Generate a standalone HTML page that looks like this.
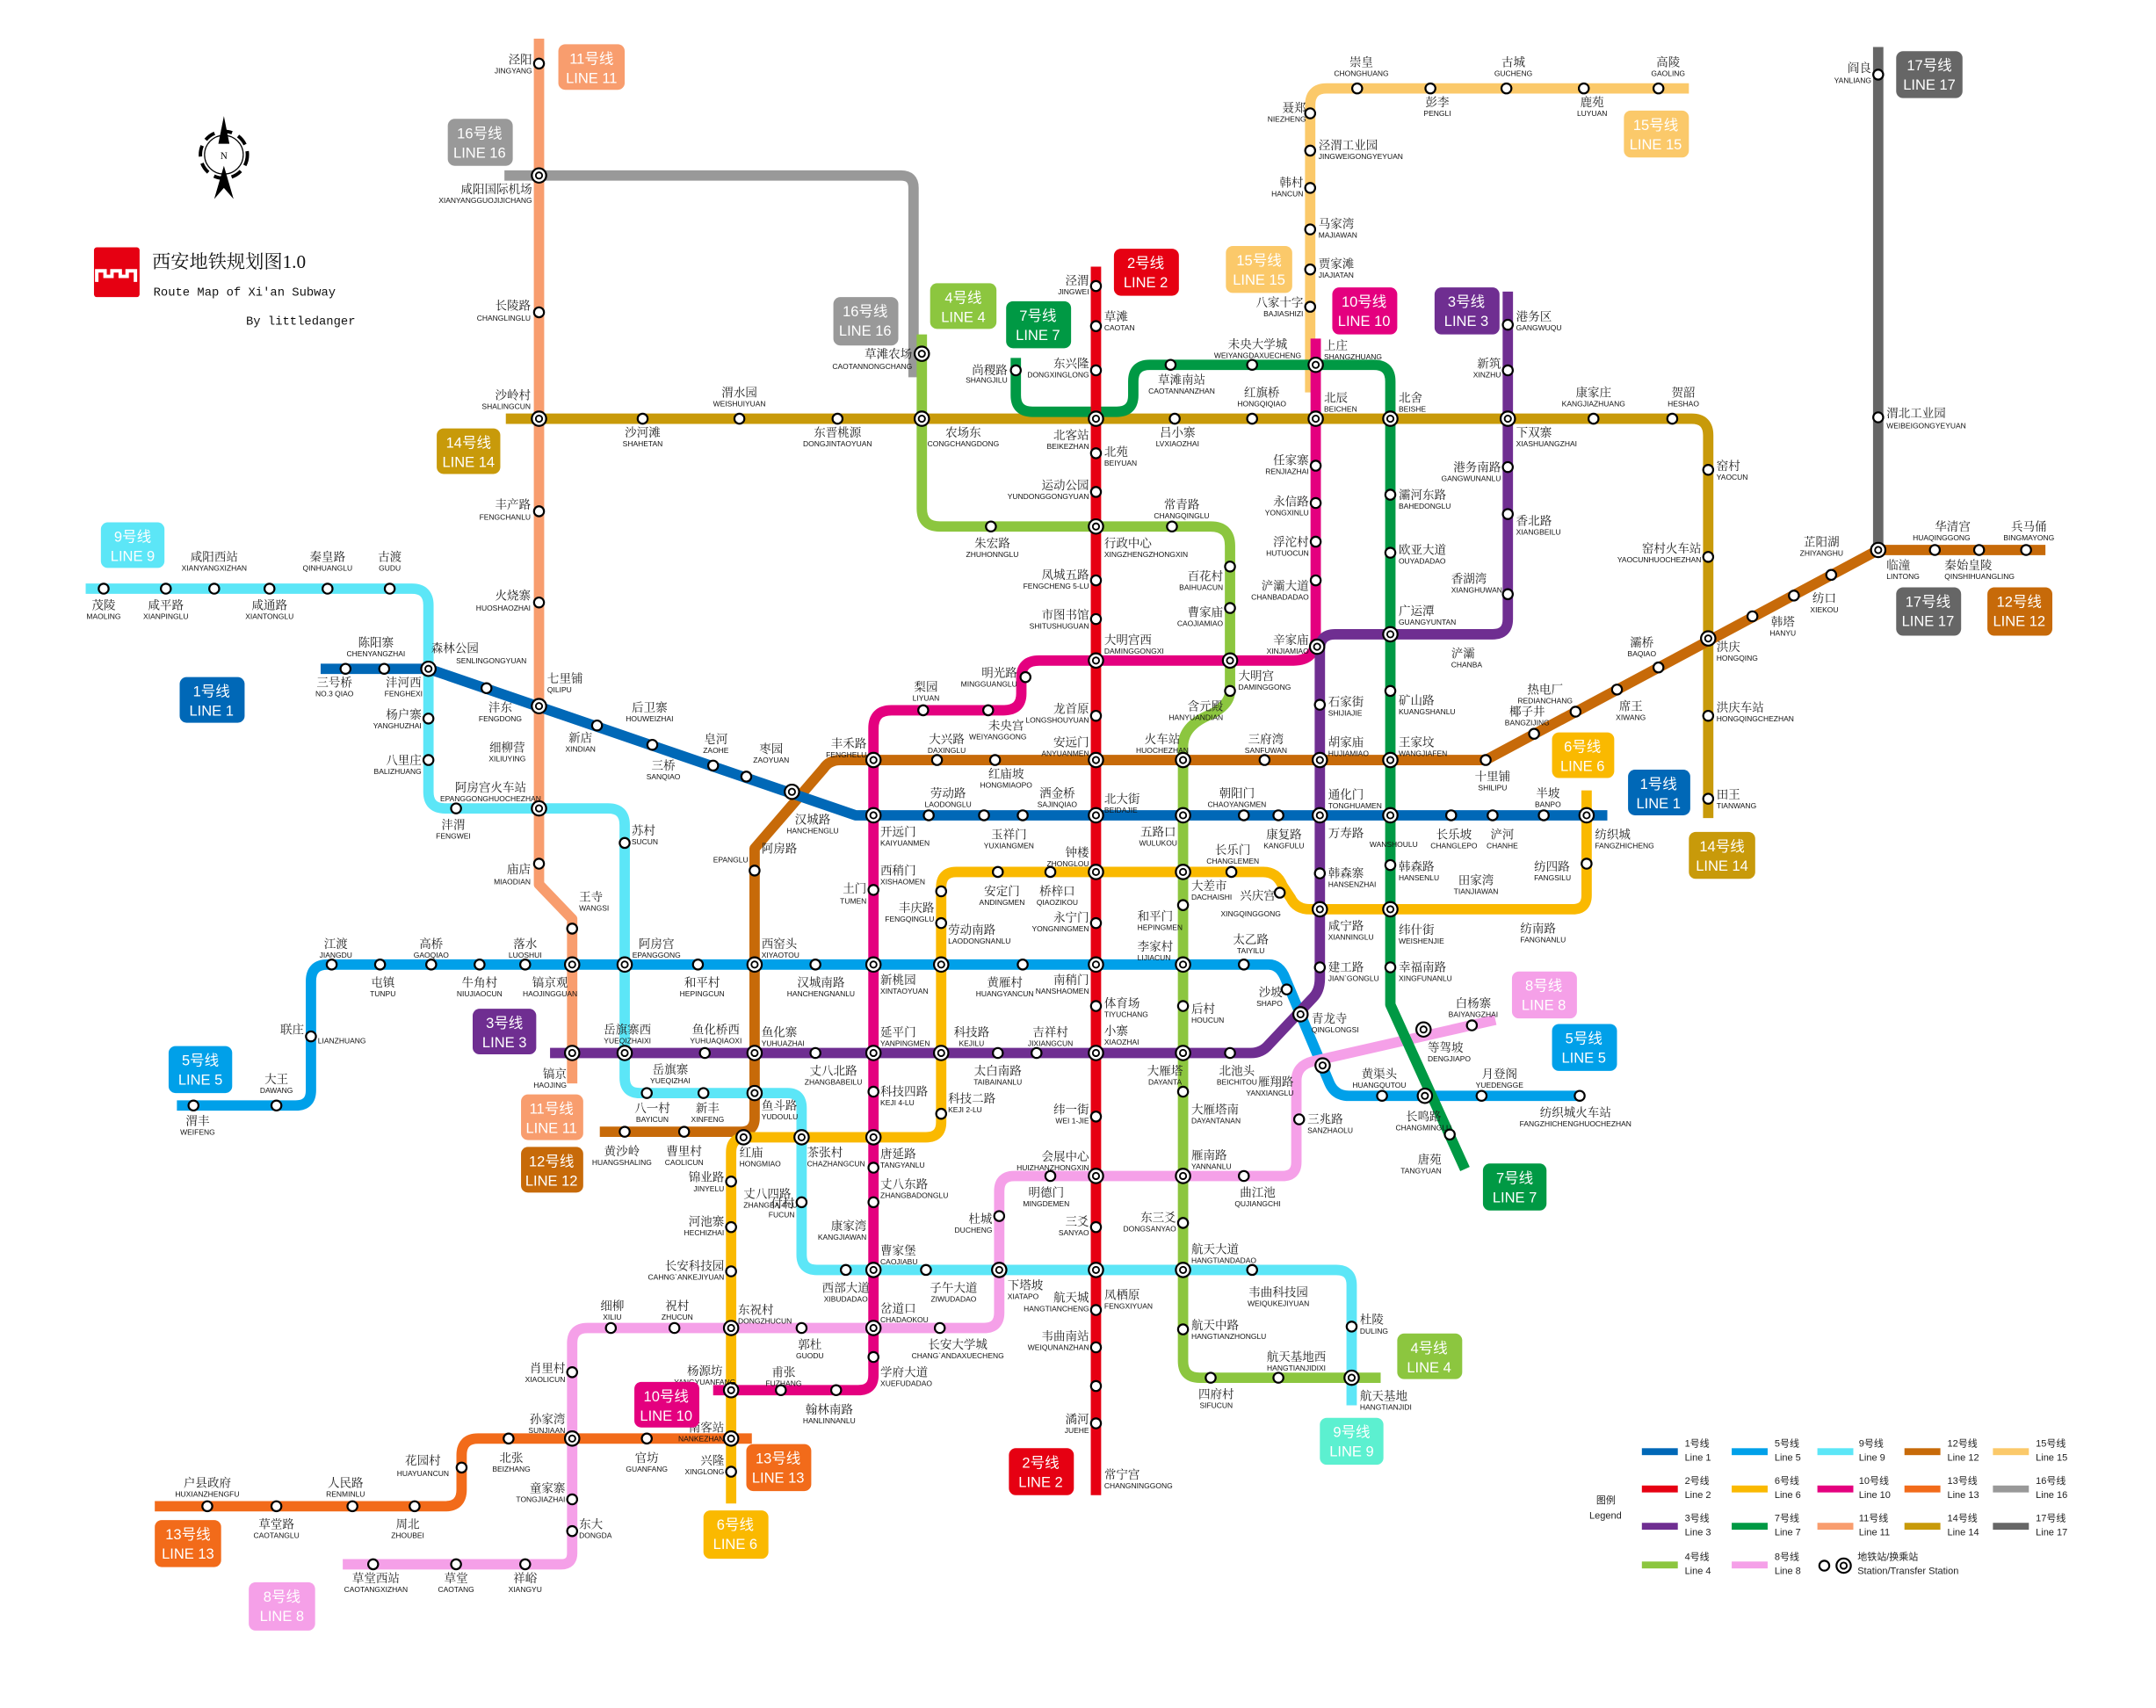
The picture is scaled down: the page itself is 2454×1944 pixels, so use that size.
<!DOCTYPE html>
<html><head><meta charset="utf-8">
<style>
html,body{margin:0;padding:0;background:#fff;}
svg{display:block;}
.c{font-family:"Liberation Serif","Noto Serif CJK SC","Noto Sans CJK SC",serif;font-size:8.6px;fill:#222;}
.p{font-family:"Liberation Sans Narrow","Liberation Sans",sans-serif;font-size:5.4px;fill:#111;}
.lb{font-family:"Liberation Sans Narrow","Liberation Sans","Noto Sans CJK SC",sans-serif;font-size:10.5px;fill:#fff;text-anchor:middle;}
.lg{font-family:"Liberation Sans Narrow","Liberation Sans","Noto Sans CJK SC",sans-serif;font-size:7px;fill:#222;}
.ln{fill:none;stroke-width:7.5;stroke-linejoin:round;stroke-linecap:butt;}
</style></head>
<body>
<svg width="2454" height="1944" viewBox="0 0 1560 1236" preserveAspectRatio="none" xmlns="http://www.w3.org/2000/svg">
<defs>
<circle id="o" r="3.6" fill="#fff" stroke="#000" stroke-width="1.4"/>
<g id="x"><circle r="5.2" fill="#fff" stroke="#000" stroke-width="1.4"/><circle r="2.3" fill="#fff" stroke="#000" stroke-width="1.2"/></g>
</defs>
<rect width="1560" height="1236" fill="#fff"/>

<!-- compass -->
<g transform="translate(162,112)">
<circle r="17" fill="none" stroke="#000" stroke-width="2.5" stroke-dasharray="8 5"/>
<circle r="14" fill="none" stroke="#000" stroke-width="0.8"/>
<polygon points="0,-28 4,-8 -4,-8" fill="#000"/>
<polygon points="0,8 7,32 0,24 -7,32" fill="#000"/>
<text x="0" y="3" font-size="7" text-anchor="middle" font-family="Liberation Serif">N</text>
</g>
<!-- title -->
<rect x="68" y="179" width="33" height="36" fill="#e60012" rx="2"/>
<path d="M70,204 v-8 h6 v4 h5 v-4 h6 v4 h5 v-4 h6 v8" fill="none" stroke="#fff" stroke-width="2.5"/>
<text x="110" y="194" font-family="Liberation Serif,Noto Serif CJK SC,serif" font-size="13.5" fill="#111">西安地铁规划图1.0</text>
<text x="111" y="214" font-family="Liberation Mono,monospace" font-size="8.8" fill="#111">Route Map of Xi'an Subway</text>
<text x="178" y="235" font-family="Liberation Mono,monospace" font-size="8.8" fill="#111">By littledanger</text>

<!-- LINES -->
<path class="ln" stroke="#f89d6e" d="M390,28 V640 L414,665 V784"/>
<path class="ln" stroke="#999" d="M365,127 H652 Q661,127 661,136 V273"/>
<path class="ln" stroke="#fbc96a" d="M948,284 V76 Q948,64 960,64 H1222"/>
<path class="ln" stroke="#666" d="M1359,34 V400"/>
<path class="ln" stroke="#c89a0a" d="M366,303 H1224 Q1236,303 1236,315 V592"/>
<path class="ln" stroke="#8cc63f" d="M667,242 V368 Q667,381 680,381 H876 Q890,381 890,395 V500 Q890,510 876,517 Q856,525 856,540 V985 Q856,997 868,997 H999"/>
<path class="ln" stroke="#5ce6f7" d="M62,426 H298 Q310,426 310,438 V573 Q310,585 322,585 H440 Q452,585 452,597 V780 Q452,791 463,791 H570 Q580,791 580,802 V908 Q580,919 591,919 H967 Q978,919 978,930 V1017"/>
<path class="ln" stroke="#c76a09" d="M434,819 H536 Q546,819 546,809 V614 L596,556 Q600,550 608,550 H1075 L1359,398 H1480"/>
<path class="ln" stroke="#0068b7" d="M232,484 H310 L619,590 H1163"/>
<path class="ln" stroke="#00a0e9" d="M128,800 H214 Q225,800 225,789 V710 Q225,698 237,698 H918 Q926,698 930,708 L962,784 Q966,793 976,793 H1143"/>
<path class="ln" stroke="#fab900" d="M529,1088 V834 Q529,823 540,823 H670 Q681,823 681,812 V642 Q681,631 692,631 H914 Q924,631 928,641 L934,650 Q938,658 948,658 H1138 Q1148,658 1148,648 V572"/>
<path class="ln" stroke="#f5a0e8" d="M248,1132 H406 Q414,1132 414,1124 V972 Q414,961 425,961 H712 Q723,961 723,950 V862 Q723,851 734,851 H928 Q938,851 938,841 V782 Q938,771 950,768 L1082,738"/>
<path class="ln" stroke="#f26b1a" d="M112,1090 H322 Q334,1090 334,1078 V1053 Q334,1041 346,1041 H544"/>
<path class="ln" stroke="#e4007f" d="M952,245 V462 Q952,478 936,478 H752 Q739,478 739,490 V502 Q739,514 726,514 H645 Q632,514 632,527 V995 Q632,1006 621,1006 H516"/>
<path class="ln" stroke="#6f2e91" d="M398,762 H905 Q913,762 918,756 L950,722 Q955,717 955,708 V470 Q955,459 966,459 H1080 Q1091,459 1091,448 V211"/>
<path class="ln" stroke="#009944" d="M735,259 V286 Q735,298 747,298 H808 Q820,298 820,286 V276 Q820,264 832,264 H994 Q1006,264 1006,276 V727 L1060,846"/>
<path class="ln" stroke="#e60012" d="M793,193 V1082"/>

<!-- STATIONS -->
<g>
<!-- L11 -->
<use href="#o" x="390" y="46"/><use href="#x" x="390" y="127"/><use href="#o" x="390" y="226"/><use href="#x" x="390" y="303"/><use href="#o" x="390" y="370"/><use href="#o" x="390" y="436"/><use href="#x" x="390" y="511"/><use href="#x" x="390" y="585"/><use href="#o" x="390" y="625"/><use href="#o" x="414" y="672"/><use href="#x" x="414" y="698"/><use href="#x" x="414" y="762"/>
<!-- L14 -->
<use href="#o" x="465" y="303"/><use href="#o" x="535" y="303"/><use href="#o" x="606" y="303"/><use href="#x" x="667" y="303"/><use href="#x" x="793" y="303"/><use href="#o" x="850" y="303"/><use href="#o" x="906" y="303"/><use href="#x" x="952" y="303"/><use href="#x" x="1006" y="303"/><use href="#x" x="1091" y="303"/><use href="#o" x="1153" y="303"/><use href="#o" x="1210" y="303"/><use href="#o" x="1236" y="340"/><use href="#o" x="1236" y="403"/><use href="#x" x="1236" y="462"/><use href="#o" x="1236" y="518"/><use href="#o" x="1236" y="578"/>
<!-- L15 -->
<use href="#o" x="948" y="82"/><use href="#o" x="948" y="109"/><use href="#o" x="948" y="136"/><use href="#o" x="948" y="166"/><use href="#o" x="948" y="195"/><use href="#o" x="948" y="222"/><use href="#o" x="982" y="64"/><use href="#o" x="1035" y="64"/><use href="#o" x="1090" y="64"/><use href="#o" x="1146" y="64"/><use href="#o" x="1200" y="64"/>
<!-- L17 -->
<use href="#o" x="1359" y="54"/><use href="#o" x="1359" y="302"/><use href="#x" x="1359" y="398"/>
<!-- L12 right -->
<use href="#o" x="1400" y="398"/><use href="#o" x="1432" y="398"/><use href="#o" x="1466" y="398"/><use href="#o" x="1325" y="416"/><use href="#o" x="1298" y="431"/><use href="#o" x="1268" y="446"/><use href="#o" x="1200" y="483"/><use href="#o" x="1170" y="499"/><use href="#o" x="1140" y="515"/><use href="#o" x="1110" y="531"/><use href="#o" x="1075" y="550"/>
<use href="#x" x="1006" y="550"/><use href="#x" x="955" y="550"/><use href="#o" x="915" y="550"/><use href="#x" x="856" y="550"/><use href="#x" x="793" y="550"/><use href="#o" x="720" y="550"/><use href="#o" x="678" y="550"/><use href="#x" x="632" y="550"/><use href="#x" x="573" y="573"/><use href="#o" x="546" y="630"/><use href="#x" x="546" y="698"/><use href="#x" x="546" y="762"/><use href="#x" x="546" y="791"/><use href="#o" x="495" y="819"/><use href="#o" x="452" y="819"/>
<!-- L1 -->
<use href="#o" x="250" y="484"/><use href="#o" x="278" y="484"/><use href="#x" x="310" y="484"/><use href="#o" x="352" y="498"/><use href="#o" x="432" y="525"/><use href="#o" x="472" y="539"/><use href="#o" x="516" y="554"/><use href="#o" x="540" y="562"/><use href="#x" x="632" y="590"/><use href="#o" x="672" y="590"/><use href="#o" x="712" y="590"/><use href="#o" x="740" y="590"/><use href="#x" x="793" y="590"/><use href="#x" x="856" y="590"/><use href="#o" x="900" y="590"/><use href="#o" x="925" y="590"/><use href="#x" x="955" y="590"/><use href="#x" x="1006" y="590"/><use href="#o" x="1050" y="590"/><use href="#o" x="1080" y="590"/><use href="#o" x="1117" y="590"/><use href="#x" x="1148" y="590"/>
<!-- L2 -->
<use href="#o" x="793" y="207"/><use href="#o" x="793" y="236"/><use href="#o" x="793" y="268"/><use href="#o" x="793" y="328"/><use href="#o" x="793" y="356"/><use href="#x" x="793" y="381"/><use href="#o" x="793" y="420"/><use href="#o" x="793" y="448"/><use href="#x" x="793" y="478"/><use href="#o" x="793" y="518"/><use href="#x" x="793" y="631"/><use href="#o" x="793" y="668"/><use href="#x" x="793" y="698"/><use href="#o" x="793" y="728"/><use href="#x" x="793" y="762"/><use href="#o" x="793" y="808"/><use href="#x" x="793" y="851"/><use href="#o" x="793" y="888"/><use href="#x" x="793" y="919"/><use href="#o" x="793" y="948"/><use href="#o" x="793" y="975"/><use href="#o" x="793" y="1003"/><use href="#o" x="793" y="1030"/>
<!-- L4 -->
<use href="#x" x="667" y="256"/><use href="#o" x="717" y="381"/><use href="#o" x="848" y="381"/><use href="#o" x="890" y="410"/><use href="#o" x="890" y="440"/><use href="#x" x="890" y="478"/><use href="#o" x="890" y="500"/><use href="#x" x="856" y="631"/><use href="#o" x="856" y="655"/><use href="#x" x="856" y="698"/><use href="#o" x="856" y="728"/><use href="#x" x="856" y="762"/><use href="#o" x="856" y="790"/><use href="#x" x="856" y="851"/><use href="#o" x="856" y="885"/><use href="#x" x="856" y="919"/><use href="#o" x="856" y="962"/><use href="#o" x="876" y="997"/><use href="#o" x="925" y="997"/><use href="#x" x="978" y="997"/>
<!-- L10 -->
<use href="#x" x="952" y="264"/><use href="#o" x="952" y="337"/><use href="#o" x="952" y="364"/><use href="#o" x="952" y="392"/><use href="#o" x="952" y="420"/><use href="#x" x="953" y="468"/><use href="#o" x="742" y="490"/><use href="#o" x="715" y="514"/><use href="#o" x="668" y="514"/><use href="#o" x="632" y="644"/><use href="#x" x="632" y="698"/><use href="#x" x="632" y="762"/><use href="#o" x="632" y="790"/><use href="#x" x="632" y="823"/><use href="#o" x="632" y="845"/><use href="#o" x="632" y="870"/><use href="#x" x="632" y="919"/><use href="#x" x="632" y="961"/><use href="#o" x="632" y="982"/><use href="#o" x="605" y="1006"/><use href="#o" x="565" y="1006"/><use href="#x" x="529" y="1006"/>
<!-- L6 -->
<use href="#o" x="529" y="1065"/><use href="#x" x="529" y="1041"/><use href="#x" x="529" y="961"/><use href="#o" x="529" y="920"/><use href="#o" x="529" y="888"/><use href="#o" x="529" y="855"/><use href="#x" x="538" y="823"/><use href="#x" x="580" y="823"/><use href="#o" x="681" y="806"/><use href="#x" x="681" y="762"/><use href="#x" x="681" y="698"/><use href="#o" x="681" y="668"/><use href="#o" x="681" y="645"/><use href="#o" x="722" y="631"/><use href="#o" x="760" y="631"/><use href="#o" x="891" y="631"/><use href="#o" x="926" y="646"/><use href="#x" x="955" y="658"/><use href="#x" x="1006" y="658"/><use href="#o" x="1148" y="625"/>
<!-- L5 -->
<use href="#o" x="140" y="800"/><use href="#o" x="200" y="800"/><use href="#o" x="225" y="750"/><use href="#o" x="240" y="698"/><use href="#o" x="275" y="698"/><use href="#o" x="312" y="698"/><use href="#o" x="347" y="698"/><use href="#o" x="380" y="698"/><use href="#x" x="452" y="698"/><use href="#o" x="505" y="698"/><use href="#o" x="590" y="698"/><use href="#o" x="740" y="698"/><use href="#o" x="900" y="698"/><use href="#o" x="931" y="716"/><use href="#x" x="941" y="734"/><use href="#x" x="957" y="771"/><use href="#o" x="1000" y="793"/><use href="#x" x="1031" y="793"/><use href="#o" x="1072" y="793"/><use href="#o" x="1143" y="793"/>
<!-- L3 -->
<use href="#x" x="452" y="762"/><use href="#o" x="510" y="762"/><use href="#o" x="590" y="762"/><use href="#o" x="722" y="762"/><use href="#o" x="750" y="762"/><use href="#o" x="890" y="762"/><use href="#o" x="955" y="700"/><use href="#o" x="955" y="632"/><use href="#o" x="955" y="510"/><use href="#x" x="1006" y="459"/><use href="#o" x="1091" y="430"/><use href="#o" x="1091" y="372"/><use href="#o" x="1091" y="338"/><use href="#o" x="1091" y="268"/><use href="#o" x="1091" y="235"/>
<!-- L7 -->
<use href="#o" x="735" y="268"/><use href="#o" x="847" y="264"/><use href="#o" x="906" y="264"/><use href="#o" x="1006" y="358"/><use href="#o" x="1006" y="400"/><use href="#o" x="1006" y="500"/><use href="#o" x="1006" y="626"/><use href="#o" x="1006" y="700"/><use href="#x" x="1030" y="745"/><use href="#o" x="1049" y="821"/>
<!-- L8 -->
<use href="#o" x="1065" y="742"/><use href="#o" x="940" y="810"/><use href="#o" x="900" y="851"/><use href="#o" x="760" y="851"/><use href="#o" x="723" y="880"/><use href="#x" x="723" y="919"/><use href="#o" x="680" y="961"/><use href="#o" x="580" y="961"/><use href="#o" x="488" y="961"/><use href="#o" x="442" y="961"/><use href="#o" x="414" y="993"/><use href="#x" x="414" y="1041"/><use href="#o" x="414" y="1085"/><use href="#o" x="414" y="1108"/><use href="#o" x="380" y="1132"/><use href="#o" x="330" y="1132"/><use href="#o" x="270" y="1132"/>
<!-- L13 -->
<use href="#o" x="150" y="1090"/><use href="#o" x="200" y="1090"/><use href="#o" x="255" y="1090"/><use href="#o" x="300" y="1090"/><use href="#o" x="334" y="1062"/><use href="#o" x="368" y="1041"/><use href="#o" x="468" y="1041"/>
<!-- L9 -->
<use href="#o" x="75" y="426"/><use href="#o" x="120" y="426"/><use href="#o" x="155" y="426"/><use href="#o" x="195" y="426"/><use href="#o" x="237" y="426"/><use href="#o" x="282" y="426"/><use href="#o" x="310" y="520"/><use href="#o" x="310" y="550"/><use href="#o" x="330" y="585"/><use href="#o" x="452" y="610"/><use href="#o" x="468" y="791"/><use href="#o" x="509" y="791"/><use href="#o" x="580" y="870"/><use href="#o" x="612" y="919"/><use href="#o" x="670" y="919"/><use href="#o" x="906" y="919"/><use href="#o" x="978" y="960"/>
</g>

<!-- LABELS -->
<g text-anchor="end">
<text class="c" x="385" y="46">泾阳</text><text class="p" x="385" y="53">JINGYANG</text>
<text class="c" x="385" y="140">咸阳国际机场</text><text class="p" x="385" y="147">XIANYANGGUOJIJICHANG</text>
<text class="c" x="384" y="224">长陵路</text><text class="p" x="384" y="232">CHANGLINGLU</text>
<text class="c" x="384" y="289">沙岭村</text><text class="p" x="384" y="296">SHALINGCUN</text>
<text class="c" x="384" y="368">丰产路</text><text class="p" x="384" y="376">FENGCHANLU</text>
<text class="c" x="384" y="434">火烧寨</text><text class="p" x="384" y="442">HUOSHAOZHAI</text>
<text class="c" x="384" y="632">庙店</text><text class="p" x="384" y="640">MIAODIAN</text>
<text class="c" x="410" y="780">镐京</text><text class="p" x="410" y="787">HAOJING</text>
<text class="c" x="660" y="259">草滩农场</text><text class="p" x="660" y="267">CAOTANNONGCHANG</text>
<text class="c" x="729" y="271">尚稷路</text><text class="p" x="729" y="277">SHANGJILU</text>
<text class="c" x="788" y="266">东兴隆</text><text class="p" x="788" y="273">DONGXINGLONG</text>
<text class="c" x="788" y="206">泾渭</text><text class="p" x="788" y="213">JINGWEI</text>
<text class="c" x="788" y="318">北客站</text><text class="p" x="788" y="325">BEIKEZHAN</text>
<text class="c" x="788" y="354">运动公园</text><text class="p" x="788" y="361">YUNDONGGONGYUAN</text>
<text class="c" x="788" y="419">凤城五路</text><text class="p" x="788" y="426">FENGCHENG 5-LU</text>
<text class="c" x="788" y="448">市图书馆</text><text class="p" x="788" y="455">SHITUSHUGUAN</text>
<text class="c" x="788" y="516">龙首原</text><text class="p" x="788" y="523">LONGSHOUYUAN</text>
<text class="c" x="788" y="540">安远门</text><text class="p" x="788" y="547">ANYUANMEN</text>
<text class="c" x="788" y="620">钟楼</text><text class="p" x="788" y="627">ZHONGLOU</text>
<text class="c" x="788" y="667">永宁门</text><text class="p" x="788" y="674">YONGNINGMEN</text>
<text class="c" x="788" y="712">南稍门</text><text class="p" x="788" y="719">NANSHAOMEN</text>
<text class="c" x="788" y="806">纬一街</text><text class="p" x="788" y="813">WEI 1-JIE</text>
<text class="c" x="788" y="840">会展中心</text><text class="p" x="788" y="847">HUIZHANZHONGXIN</text>
<text class="c" x="788" y="887">三爻</text><text class="p" x="788" y="894">SANYAO</text>
<text class="c" x="788" y="942">航天城</text><text class="p" x="788" y="949">HANGTIANCHENG</text>
<text class="c" x="788" y="970">韦曲南站</text><text class="p" x="788" y="977">WEIQUNANZHAN</text>
<text class="c" x="788" y="1030">潏河</text><text class="p" x="788" y="1037">JUEHE</text>
<text class="c" x="945" y="81">聂郑</text><text class="p" x="945" y="88">NIEZHENG</text>
<text class="c" x="943" y="135">韩村</text><text class="p" x="943" y="142">HANCUN</text>
<text class="c" x="943" y="222">八家十字</text><text class="p" x="943" y="229">BAJIASHIZI</text>
<text class="c" x="947" y="336">任家寨</text><text class="p" x="947" y="343">RENJIAZHAI</text>
<text class="c" x="947" y="366">永信路</text><text class="p" x="947" y="373">YONGXINLU</text>
<text class="c" x="947" y="395">浮沱村</text><text class="p" x="947" y="402">HUTUOCUN</text>
<text class="c" x="947" y="427">浐灞大道</text><text class="p" x="947" y="434">CHANBADADAO</text>
<text class="c" x="947" y="466">辛家庙</text><text class="p" x="947" y="473">XINJIAMIAO</text>
<text class="c" x="885" y="420">百花村</text><text class="p" x="885" y="427">BAIHUACUN</text>
<text class="c" x="885" y="446">曹家庙</text><text class="p" x="885" y="453">CAOJIAMIAO</text>
<text class="c" x="885" y="514">含元殿</text><text class="p" x="885" y="521">HANYUANDIAN</text>
<text class="c" x="736" y="490">明光路</text><text class="p" x="736" y="497">MINGGUANGLU</text>
<text class="c" x="627" y="541">丰禾路</text><text class="p" x="627" y="548">FENGHELU</text>
<text class="c" x="627" y="646">土门</text><text class="p" x="627" y="654">TUMEN</text>
<text class="c" x="676" y="660">丰庆路</text><text class="p" x="676" y="667">FENGQINGLU</text>
<text class="c" x="1086" y="266">新筑</text><text class="p" x="1086" y="273">XINZHU</text>
<text class="c" x="1086" y="341">港务南路</text><text class="p" x="1086" y="348">GANGWUNANLU</text>
<text class="c" x="1231" y="400">窑村火车站</text><text class="p" x="1231" y="407">YAOCUNHUOCHEZHAN</text>
<text class="c" x="1354" y="52">阎良</text><text class="p" x="1354" y="60">YANLIANG</text>
<text class="c" x="524" y="855">锦业路</text><text class="p" x="524" y="862">JINYELU</text>
<text class="c" x="524" y="887">河池寨</text><text class="p" x="524" y="894">HECHIZHAI</text>
<text class="c" x="524" y="919">长安科技园</text><text class="p" x="524" y="926">CAHNG`ANKEJIYUAN</text>
<text class="c" x="524" y="1060">兴隆</text><text class="p" x="524" y="1067">XINGLONG</text>
<text class="c" x="524" y="1056" dy="-20">南客站</text><text class="p" x="524" y="1062" dy="-19">NANKEZHAN</text>
<text class="c" x="575" y="874">付村</text><text class="p" x="575" y="881">FUCUN</text>
<text class="c" x="627" y="890">康家湾</text><text class="p" x="627" y="897">KANGJIAWAN</text>
<text class="c" x="718" y="885">杜城</text><text class="p" x="718" y="892">DUCHENG</text>
<text class="c" x="409" y="993">肖里村</text><text class="p" x="409" y="1000">XIAOLICUN</text>
<text class="c" x="409" y="1030">孙家湾</text><text class="p" x="409" y="1037">SUNJIAAN</text>
<text class="c" x="409" y="1080">童家寨</text><text class="p" x="409" y="1087">TONGJIAZHAI</text>
<text class="c" x="220" y="748">联庄</text><text class="p" x="220" y="755" text-anchor="start" dx="10">LIANZHUANG</text>
<text class="c" x="851" y="884">东三爻</text><text class="p" x="851" y="891">DONGSANYAO</text>
<text class="c" x="305" y="520">杨户寨</text><text class="p" x="305" y="527">YANGHUZHAI</text>
<text class="c" x="305" y="553">八里庄</text><text class="p" x="305" y="560">BALIZHUANG</text>
<text class="c" x="1043" y="842">唐苑</text><text class="p" x="1043" y="849">TANGYUAN</text>
<text class="c" x="936" y="786">雁翔路</text><text class="p" x="936" y="793">YANXIANGLU</text>
<text class="c" x="928" y="721">沙坡</text><text class="p" x="928" y="728">SHAPO</text>
</g>

<g text-anchor="start">
<text class="c" x="799" y="232">草滩</text><text class="p" x="799" y="239">CAOTAN</text>
<text class="c" x="799" y="330">北苑</text><text class="p" x="799" y="337">BEIYUAN</text>
<text class="c" x="799" y="396">行政中心</text><text class="p" x="799" y="403">XINGZHENGZHONGXIN</text>
<text class="c" x="799" y="466">大明宫西</text><text class="p" x="799" y="473">DAMINGGONGXI</text>
<text class="c" x="799" y="581">北大街</text><text class="p" x="799" y="588">BEIDAJIE</text>
<text class="c" x="799" y="729">体育场</text><text class="p" x="799" y="736">TIYUCHANG</text>
<text class="c" x="799" y="749">小寨</text><text class="p" x="799" y="756">XIAOZHAI</text>
<text class="c" x="799" y="940">凤栖原</text><text class="p" x="799" y="947">FENGXIYUAN</text>
<text class="c" x="799" y="1070">常宁宫</text><text class="p" x="799" y="1077">CHANGNINGGONG</text>
<text class="c" x="954" y="108">泾渭工业园</text><text class="p" x="954" y="115">JINGWEIGONGYEYUAN</text>
<text class="c" x="954" y="165">马家湾</text><text class="p" x="954" y="172">MAJIAWAN</text>
<text class="c" x="954" y="194">贾家滩</text><text class="p" x="954" y="201">JIAJIATAN</text>
<text class="c" x="958" y="253">上庄</text><text class="p" x="958" y="260">SHANGZHUANG</text>
<text class="c" x="958" y="291">北辰</text><text class="p" x="958" y="298">BEICHEN</text>
<text class="c" x="1012" y="291">北舍</text><text class="p" x="1012" y="298">BEISHE</text>
<text class="c" x="1012" y="361">灞河东路</text><text class="p" x="1012" y="368">BAHEDONGLU</text>
<text class="c" x="1012" y="401">欧亚大道</text><text class="p" x="1012" y="408">OUYADADAO</text>
<text class="c" x="1012" y="445">广运潭</text><text class="p" x="1012" y="452">GUANGYUNTAN</text>
<text class="c" x="1012" y="510">矿山路</text><text class="p" x="1012" y="517">KUANGSHANLU</text>
<text class="c" x="1012" y="540">王家坟</text><text class="p" x="1012" y="547">WANGJIAFEN</text>
<text class="c" x="1012" y="630">韩森路</text><text class="p" x="1012" y="637">HANSENLU</text>
<text class="c" x="1012" y="676">纬什街</text><text class="p" x="1012" y="683">WEISHENJIE</text>
<text class="c" x="1012" y="703">幸福南路</text><text class="p" x="1012" y="710">XINGFUNANLU</text>
<text class="c" x="1033" y="761">等驾坡</text><text class="p" x="1033" y="768">DENGJIAPO</text>
<text class="c" x="1097" y="232">港务区</text><text class="p" x="1097" y="239">GANGWUQU</text>
<text class="c" x="1097" y="316">下双寨</text><text class="p" x="1097" y="323">XIASHUANGZHAI</text>
<text class="c" x="1097" y="380">香北路</text><text class="p" x="1097" y="387">XIANGBEILU</text>
<text class="c" x="1050" y="422">香湖湾</text><text class="p" x="1050" y="429">XIANGHUWAN</text>
<text class="c" x="1050" y="476">浐灞</text><text class="p" x="1050" y="483">CHANBA</text>
<text class="c" x="961" y="511">石家街</text><text class="p" x="961" y="518">SHIJIAJIE</text>
<text class="c" x="961" y="540">胡家庙</text><text class="p" x="961" y="547">HUJIAMIAO</text>
<text class="c" x="961" y="578">通化门</text><text class="p" x="961" y="585">TONGHUAMEN</text>
<text class="c" x="961" y="606">万寿路</text><text class="p" x="961" y="613" dx="30">WANSHOULU</text>
<text class="c" x="961" y="635">韩森寨</text><text class="p" x="961" y="642">HANSENZHAI</text>
<text class="c" x="961" y="673">咸宁路</text><text class="p" x="961" y="680">XIANNINGLU</text>
<text class="c" x="961" y="703">建工路</text><text class="p" x="961" y="710">JIAN`GONGLU</text>
<text class="c" x="949" y="740">青龙寺</text><text class="p" x="949" y="747">QINGLONGSI</text>
<text class="c" x="946" y="813">三兆路</text><text class="p" x="946" y="820">SANZHAOLU</text>
<text class="c" x="1242" y="340">窑村</text><text class="p" x="1242" y="347">YAOCUN</text>
<text class="c" x="1242" y="471">洪庆</text><text class="p" x="1242" y="478">HONGQING</text>
<text class="c" x="1242" y="515">洪庆车站</text><text class="p" x="1242" y="522">HONGQINGCHEZHAN</text>
<text class="c" x="1242" y="578">田王</text><text class="p" x="1242" y="585">TIANWANG</text>
<text class="c" x="1365" y="302">渭北工业园</text><text class="p" x="1365" y="310">WEIBEIGONGYEYUAN</text>
<text class="c" x="1365" y="412">临潼</text><text class="p" x="1365" y="419">LINTONG</text>
<text class="c" x="1407" y="412">秦始皇陵</text><text class="p" x="1407" y="419">QINSHIHUANGLING</text>
<text class="c" x="896" y="492">大明宫</text><text class="p" x="896" y="499">DAMINGGONG</text>
<text class="c" x="862" y="644">大差市</text><text class="p" x="862" y="651">DACHAISHI</text>
<text class="c" x="823" y="666">和平门</text><text class="p" x="823" y="673">HEPINGMEN</text>
<text class="c" x="823" y="688">李家村</text><text class="p" x="823" y="695">LIJIACUN</text>
<text class="c" x="862" y="733">后村</text><text class="p" x="862" y="740">HOUCUN</text>
<text class="c" x="862" y="806">大雁塔南</text><text class="p" x="862" y="813">DAYANTANAN</text>
<text class="c" x="862" y="839">雁南路</text><text class="p" x="862" y="846">YANNANLU</text>
<text class="c" x="862" y="907">航天大道</text><text class="p" x="862" y="914">HANGTIANDADAO</text>
<text class="c" x="862" y="962">航天中路</text><text class="p" x="862" y="969">HANGTIANZHONGLU</text>
<text class="c" x="984" y="1013">航天基地</text><text class="p" x="984" y="1020">HANGTIANJIDI</text>
<text class="c" x="984" y="958">杜陵</text><text class="p" x="984" y="965">DULING</text>
<text class="c" x="637" y="605">开远门</text><text class="p" x="637" y="612">KAIYUANMEN</text>
<text class="c" x="637" y="633">西稍门</text><text class="p" x="637" y="640">XISHAOMEN</text>
<text class="c" x="637" y="712">新桃园</text><text class="p" x="637" y="719">XINTAOYUAN</text>
<text class="c" x="637" y="750">延平门</text><text class="p" x="637" y="757">YANPINGMEN</text>
<text class="c" x="637" y="793">科技四路</text><text class="p" x="637" y="800">KEJI 4-LU</text>
<text class="c" x="637" y="838">唐延路</text><text class="p" x="637" y="845">TANGYANLU</text>
<text class="c" x="637" y="860">丈八东路</text><text class="p" x="637" y="867">ZHANGBADONGLU</text>
<text class="c" x="637" y="908">曹家堡</text><text class="p" x="637" y="915">CAOJIABU</text>
<text class="c" x="637" y="950">岔道口</text><text class="p" x="637" y="957">CHADAOKOU</text>
<text class="c" x="637" y="996">学府大道</text><text class="p" x="637" y="1003">XUEFUDADAO</text>
<text class="c" x="686" y="798">科技二路</text><text class="p" x="686" y="805">KEJI 2-LU</text>
<text class="c" x="686" y="676">劳动南路</text><text class="p" x="686" y="683">LAODONGNANLU</text>
<text class="c" x="551" y="617">阿房路</text><text class="p" x="551" y="624" dx="-35">EPANGLU</text>
<text class="c" x="551" y="686">西窑头</text><text class="p" x="551" y="693">XIYAOTOU</text>
<text class="c" x="551" y="750">鱼化寨</text><text class="p" x="551" y="757">YUHUAZHAI</text>
<text class="c" x="551" y="803">鱼斗路</text><text class="p" x="551" y="810">YUDOULU</text>
<text class="c" x="535" y="837">红庙</text><text class="p" x="535" y="844">HONGMIAO</text>
<text class="c" x="584" y="837">茶张村</text><text class="p" x="584" y="844">CHAZHANGCUN</text>
<text class="c" x="538" y="867">丈八四路</text><text class="p" x="538" y="874">ZHANGBA 4-LU</text>
<text class="c" x="534" y="951">东祝村</text><text class="p" x="534" y="958">DONGZHUCUN</text>
<text class="c" x="457" y="604">苏村</text><text class="p" x="457" y="611">SUCUN</text>
<text class="c" x="419" y="652">王寺</text><text class="p" x="419" y="659">WANGSI</text>
<text class="c" x="396" y="494">七里铺</text><text class="p" x="396" y="501">QILIPU</text>
<text class="c" x="729" y="933">下塔坡</text><text class="p" x="729" y="940">XIATAPO</text>
<text class="c" x="419" y="1106">东大</text><text class="p" x="419" y="1113">DONGDA</text>
<text class="c" x="312" y="472">森林公园</text><text class="p" x="330" y="480">SENLINGONGYUAN</text>
<text class="c" x="1154" y="607">纺织城</text><text class="p" x="1154" y="614">FANGZHICHENG</text>
<text class="c" x="1110" y="630">纺四路</text><text class="p" x="1110" y="637">FANGSILU</text>
<text class="c" x="1100" y="675">纺南路</text><text class="p" x="1100" y="682">FANGNANLU</text>
<text class="c" x="1400" y="384">华清宫</text><text class="p" x="1384" y="391">HUAQINGGONG</text>
</g>

<g text-anchor="middle">
<text class="c" x="465" y="316">沙河滩</text><text class="p" x="465" y="323">SHAHETAN</text>
<text class="c" x="535" y="287">渭水园</text><text class="p" x="535" y="294">WEISHUIYUAN</text>
<text class="c" x="606" y="316">东晋桃源</text><text class="p" x="606" y="323">DONGJINTAOYUAN</text>
<text class="c" x="697" y="316">农场东</text><text class="p" x="697" y="323">CONGCHANGDONG</text>
<text class="c" x="852" y="316">吕小寨</text><text class="p" x="852" y="323">LVXIAOZHAI</text>
<text class="c" x="913" y="287">红旗桥</text><text class="p" x="913" y="294">HONGQIQIAO</text>
<text class="c" x="1153" y="287">康家庄</text><text class="p" x="1153" y="294">KANGJIAZHUANG</text>
<text class="c" x="1218" y="287">贺韶</text><text class="p" x="1218" y="294">HESHAO</text>
<text class="c" x="855" y="278">草滩南站</text><text class="p" x="855" y="285">CAOTANNANZHAN</text>
<text class="c" x="910" y="252">未央大学城</text><text class="p" x="910" y="259">WEIYANGDAXUECHENG</text>
<text class="c" x="985" y="48">崇皇</text><text class="p" x="985" y="55">CHONGHUANG</text>
<text class="c" x="1040" y="77">彭李</text><text class="p" x="1040" y="84">PENGLI</text>
<text class="c" x="1095" y="48">古城</text><text class="p" x="1095" y="55">GUCHENG</text>
<text class="c" x="1152" y="77">鹿苑</text><text class="p" x="1152" y="84">LUYUAN</text>
<text class="c" x="1207" y="48">高陵</text><text class="p" x="1207" y="55">GAOLING</text>
<text class="c" x="718" y="396">朱宏路</text><text class="p" x="718" y="403">ZHUHONNGLU</text>
<text class="c" x="855" y="368">常青路</text><text class="p" x="855" y="375">CHANGQINGLU</text>
<text class="c" x="670" y="500">梨园</text><text class="p" x="670" y="507">LIYUAN</text>
<text class="c" x="728" y="528">未央宫</text><text class="p" x="722" y="535">WEIYANGGONG</text>
<text class="c" x="685" y="538">大兴路</text><text class="p" x="685" y="545">DAXINGLU</text>
<text class="c" x="728" y="563">红庙坡</text><text class="p" x="728" y="570">HONGMIAOPO</text>
<text class="c" x="841" y="538">火车站</text><text class="p" x="841" y="545">HUOCHEZHAN</text>
<text class="c" x="916" y="538">三府湾</text><text class="p" x="916" y="545">SANFUWAN</text>
<text class="c" x="1080" y="565">十里铺</text><text class="p" x="1080" y="572">SHILIPU</text>
<text class="c" x="1105" y="518">椰子井</text><text class="p" x="1105" y="525">BANGZIJING</text>
<text class="c" x="1118" y="502">热电厂</text><text class="p" x="1118" y="509">REDIANCHANG</text>
<text class="c" x="1180" y="514">席王</text><text class="p" x="1180" y="521">XIWANG</text>
<text class="c" x="1188" y="468">灞桥</text><text class="p" x="1188" y="475">BAQIAO</text>
<text class="c" x="1290" y="453">韩塔</text><text class="p" x="1290" y="460">HANYU</text>
<text class="c" x="1320" y="436">纺口</text><text class="p" x="1320" y="443">XIEKOU</text>
<text class="c" x="1318" y="395">芷阳湖</text><text class="p" x="1318" y="402">ZHIYANGHU</text>
<text class="c" x="1468" y="384">兵马俑</text><text class="p" x="1468" y="391">BINGMAYONG</text>
<text class="c" x="588" y="596">汉城路</text><text class="p" x="588" y="603">HANCHENGLU</text>
<text class="c" x="558" y="545">枣园</text><text class="p" x="558" y="552">ZAOYUAN</text>
<text class="c" x="518" y="538">皂河</text><text class="p" x="518" y="545">ZAOHE</text>
<text class="c" x="480" y="557">三桥</text><text class="p" x="480" y="564">SANQIAO</text>
<text class="c" x="470" y="515">后卫寨</text><text class="p" x="470" y="522">HOUWEIZHAI</text>
<text class="c" x="420" y="537">新店</text><text class="p" x="420" y="544">XINDIAN</text>
<text class="c" x="362" y="515">沣东</text><text class="p" x="362" y="522">FENGDONG</text>
<text class="c" x="367" y="544">细柳营</text><text class="p" x="367" y="551">XILIUYING</text>
<text class="c" x="242" y="497">三号桥</text><text class="p" x="242" y="504">NO.3 QIAO</text>
<text class="c" x="272" y="468">陈阳寨</text><text class="p" x="272" y="475">CHENYANGZHAI</text>
<text class="c" x="292" y="497">沣河西</text><text class="p" x="292" y="504">FENGHEXI</text>
<text class="c" x="686" y="577">劳动路</text><text class="p" x="686" y="584">LAODONGLU</text>
<text class="c" x="730" y="607">玉祥门</text><text class="p" x="730" y="614">YUXIANGMEN</text>
<text class="c" x="765" y="577">洒金桥</text><text class="p" x="765" y="584">SAJINQIAO</text>
<text class="c" x="838" y="605">五路口</text><text class="p" x="838" y="612">WULUKOU</text>
<text class="c" x="895" y="577">朝阳门</text><text class="p" x="895" y="584">CHAOYANGMEN</text>
<text class="c" x="929" y="607">康复路</text><text class="p" x="929" y="614">KANGFULU</text>
<text class="c" x="1052" y="607">长乐坡</text><text class="p" x="1052" y="614">CHANGLEPO</text>
<text class="c" x="1087" y="607">浐河</text><text class="p" x="1087" y="614">CHANHE</text>
<text class="c" x="1120" y="577">半坡</text><text class="p" x="1120" y="584">BANPO</text>
<text class="c" x="892" y="618">长乐门</text><text class="p" x="892" y="625">CHANGLEMEN</text>
<text class="c" x="910" y="651">兴庆宫</text><text class="p" x="905" y="663">XINGQINGGONG</text>
<text class="c" x="725" y="648">安定门</text><text class="p" x="725" y="655">ANDINGMEN</text>
<text class="c" x="765" y="648">桥梓口</text><text class="p" x="765" y="655">QIAOZIKOU</text>
<text class="c" x="1068" y="640">田家湾</text><text class="p" x="1068" y="647">TIANJIAWAN</text>
<text class="c" x="143" y="814">渭丰</text><text class="p" x="143" y="821">WEIFENG</text>
<text class="c" x="200" y="784">大王</text><text class="p" x="200" y="791">DAWANG</text>
<text class="c" x="243" y="686">江渡</text><text class="p" x="243" y="693">JIANGDU</text>
<text class="c" x="277" y="714">屯镇</text><text class="p" x="277" y="721">TUNPU</text>
<text class="c" x="312" y="686">高桥</text><text class="p" x="312" y="693">GAOQIAO</text>
<text class="c" x="347" y="714">牛角村</text><text class="p" x="347" y="721">NIUJIAOCUN</text>
<text class="c" x="380" y="686">落水</text><text class="p" x="380" y="693">LUOSHUI</text>
<text class="c" x="398" y="714">镐京观</text><text class="p" x="398" y="721">HAOJINGGUAN</text>
<text class="c" x="475" y="686">阿房宫</text><text class="p" x="475" y="693">EPANGGONG</text>
<text class="c" x="508" y="714">和平村</text><text class="p" x="508" y="721">HEPINGCUN</text>
<text class="c" x="594" y="714">汉城南路</text><text class="p" x="594" y="721">HANCHENGNANLU</text>
<text class="c" x="727" y="714">黄雁村</text><text class="p" x="727" y="721">HUANGYANCUN</text>
<text class="c" x="905" y="683">太乙路</text><text class="p" x="905" y="690">TAIYILU</text>
<text class="c" x="998" y="780">黄渠头</text><text class="p" x="998" y="787">HUANGQUTOU</text>
<text class="c" x="1030" y="811">长鸣路</text><text class="p" x="1030" y="818">CHANGMINGLU</text>
<text class="c" x="1085" y="780">月登阁</text><text class="p" x="1085" y="787">YUEDENGGE</text>
<text class="c" x="1140" y="808">纺织城火车站</text><text class="p" x="1140" y="815">FANGZHICHENGHUOCHEZHAN</text>
<text class="c" x="454" y="748">岳旗寨西</text><text class="p" x="454" y="755">YUEQIZHAIXI</text>
<text class="c" x="518" y="748">鱼化桥西</text><text class="p" x="518" y="755">YUHUAQIAOXI</text>
<text class="c" x="603" y="778">丈八北路</text><text class="p" x="603" y="785">ZHANGBABEILU</text>
<text class="c" x="703" y="750">科技路</text><text class="p" x="703" y="757">KEJILU</text>
<text class="c" x="722" y="778">太白南路</text><text class="p" x="722" y="785">TAIBAINANLU</text>
<text class="c" x="760" y="750">吉祥村</text><text class="p" x="760" y="757">JIXIANGCUN</text>
<text class="c" x="843" y="778">大雁塔</text><text class="p" x="843" y="785">DAYANTA</text>
<text class="c" x="895" y="778">北池头</text><text class="p" x="895" y="785">BEICHITOU</text>
<text class="c" x="485" y="777">岳旗寨</text><text class="p" x="485" y="784">YUEQIZHAI</text>
<text class="c" x="472" y="805">八一村</text><text class="p" x="472" y="812">BAYICUN</text>
<text class="c" x="512" y="805">新丰</text><text class="p" x="512" y="812">XINFENG</text>
<text class="c" x="450" y="836">黄沙岭</text><text class="p" x="450" y="843">HUANGSHALING</text>
<text class="c" x="495" y="836">曹里村</text><text class="p" x="495" y="843">CAOLICUN</text>
<text class="c" x="612" y="935">西部大道</text><text class="p" x="612" y="942">XIBUDADAO</text>
<text class="c" x="690" y="935">子午大道</text><text class="p" x="690" y="942">ZIWUDADAO</text>
<text class="c" x="925" y="938">韦曲科技园</text><text class="p" x="925" y="945">WEIQUKEJIYUAN</text>
<text class="c" x="880" y="1012">四府村</text><text class="p" x="880" y="1019">SIFUCUN</text>
<text class="c" x="938" y="985">航天基地西</text><text class="p" x="938" y="992">HANGTIANJIDIXI</text>
<text class="c" x="757" y="866">明德门</text><text class="p" x="757" y="873">MINGDEMEN</text>
<text class="c" x="910" y="866">曲江池</text><text class="p" x="910" y="873">QUJIANGCHI</text>
<text class="c" x="1066" y="729">白杨寨</text><text class="p" x="1066" y="736">BAIYANGZHAI</text>
<text class="c" x="693" y="976">长安大学城</text><text class="p" x="693" y="983">CHANG`ANDAXUECHENG</text>
<text class="c" x="586" y="976">郭杜</text><text class="p" x="586" y="983">GUODU</text>
<text class="c" x="490" y="948">祝村</text><text class="p" x="490" y="955">ZHUCUN</text>
<text class="c" x="443" y="948">细柳</text><text class="p" x="443" y="955">XILIU</text>
<text class="c" x="510" y="995">杨源坊</text><text class="p" x="510" y="1002">YANGYUANFANG</text>
<text class="c" x="567" y="996">甫张</text><text class="p" x="567" y="1003">FUZHANG</text>
<text class="c" x="600" y="1023">翰林南路</text><text class="p" x="600" y="1030">HANLINNANLU</text>
<text class="c" x="468" y="1058">官坊</text><text class="p" x="468" y="1065">GUANFANG</text>
<text class="c" x="370" y="1058">北张</text><text class="p" x="370" y="1065">BEIZHANG</text>
<text class="c" x="306" y="1060">花园村</text><text class="p" x="306" y="1068">HUAYUANCUN</text>
<text class="c" x="150" y="1076">户县政府</text><text class="p" x="150" y="1083">HUXIANZHENGFU</text>
<text class="c" x="200" y="1106">草堂路</text><text class="p" x="200" y="1113">CAOTANGLU</text>
<text class="c" x="250" y="1076">人民路</text><text class="p" x="250" y="1083">RENMINLU</text>
<text class="c" x="295" y="1106">周北</text><text class="p" x="295" y="1113">ZHOUBEI</text>
<text class="c" x="272" y="1145">草堂西站</text><text class="p" x="272" y="1152">CAOTANGXIZHAN</text>
<text class="c" x="330" y="1145">草堂</text><text class="p" x="330" y="1152">CAOTANG</text>
<text class="c" x="380" y="1145">祥峪</text><text class="p" x="380" y="1152">XIANGYU</text>
<text class="c" x="75" y="441">茂陵</text><text class="p" x="75" y="448">MAOLING</text>
<text class="c" x="120" y="441">咸平路</text><text class="p" x="120" y="448">XIANPINGLU</text>
<text class="c" x="155" y="406">咸阳西站</text><text class="p" x="155" y="413">XIANYANGXIZHAN</text>
<text class="c" x="195" y="441">咸通路</text><text class="p" x="195" y="448">XIANTONGLU</text>
<text class="c" x="237" y="406">秦皇路</text><text class="p" x="237" y="413">QINHUANGLU</text>
<text class="c" x="282" y="406">古渡</text><text class="p" x="282" y="413">GUDU</text>
<text class="c" x="355" y="573">阿房宫火车站</text><text class="p" x="355" y="580">EPANGGONGHUOCHEZHAN</text>
<text class="c" x="328" y="600">沣渭</text><text class="p" x="328" y="607">FENGWEI</text>
</g>

<!-- LINE BADGES -->
<g>
<rect x="404" y="32" width="48" height="33" rx="5" fill="#f89d6e"/><text class="lb" x="428" y="46">11号线</text><text class="lb" x="428" y="60">LINE 11</text>
<rect x="324" y="86" width="47" height="34" rx="5" fill="#999"/><text class="lb" x="347" y="100">16号线</text><text class="lb" x="347" y="114">LINE 16</text>
<rect x="316" y="310" width="46" height="33" rx="5" fill="#c89a0a"/><text class="lb" x="339" y="324">14号线</text><text class="lb" x="339" y="338">LINE 14</text>
<rect x="73" y="378" width="46" height="33" rx="5" fill="#5ce6f7"/><text class="lb" x="96" y="392">9号线</text><text class="lb" x="96" y="406">LINE 9</text>
<rect x="130" y="490" width="47" height="33" rx="5" fill="#0068b7"/><text class="lb" x="153" y="504">1号线</text><text class="lb" x="153" y="518">LINE 1</text>
<rect x="806" y="180" width="47" height="34" rx="5" fill="#e60012"/><text class="lb" x="829" y="194">2号线</text><text class="lb" x="829" y="208">LINE 2</text>
<rect x="673" y="205" width="48" height="33" rx="5" fill="#8cc63f"/><text class="lb" x="697" y="219">4号线</text><text class="lb" x="697" y="233">LINE 4</text>
<rect x="728" y="218" width="47" height="34" rx="5" fill="#009944"/><text class="lb" x="751" y="232">7号线</text><text class="lb" x="751" y="246">LINE 7</text>
<rect x="603" y="215" width="47" height="35" rx="5" fill="#999"/><text class="lb" x="626" y="229">16号线</text><text class="lb" x="626" y="243">LINE 16</text>
<rect x="887" y="178" width="48" height="34" rx="5" fill="#fbc96a"/><text class="lb" x="911" y="192">15号线</text><text class="lb" x="911" y="206">LINE 15</text>
<rect x="964" y="208" width="47" height="34" rx="5" fill="#e4007f"/><text class="lb" x="987" y="222">10号线</text><text class="lb" x="987" y="236">LINE 10</text>
<rect x="1038" y="208" width="47" height="34" rx="5" fill="#6f2e91"/><text class="lb" x="1061" y="222">3号线</text><text class="lb" x="1061" y="236">LINE 3</text>
<rect x="1175" y="80" width="47" height="34" rx="5" fill="#fbc96a"/><text class="lb" x="1198" y="94">15号线</text><text class="lb" x="1198" y="108">LINE 15</text>
<rect x="1372" y="37" width="48" height="34" rx="5" fill="#666"/><text class="lb" x="1396" y="51">17号线</text><text class="lb" x="1396" y="65">LINE 17</text>
<rect x="1372" y="425" width="47" height="35" rx="5" fill="#666"/><text class="lb" x="1395" y="439">17号线</text><text class="lb" x="1395" y="453">LINE 17</text>
<rect x="1438" y="425" width="47" height="35" rx="5" fill="#c76a09"/><text class="lb" x="1461" y="439">12号线</text><text class="lb" x="1461" y="453">LINE 12</text>
<rect x="1178" y="557" width="45" height="33" rx="5" fill="#0068b7"/><text class="lb" x="1200" y="571">1号线</text><text class="lb" x="1200" y="585">LINE 1</text>
<rect x="1222" y="602" width="48" height="34" rx="5" fill="#c89a0a"/><text class="lb" x="1246" y="616">14号线</text><text class="lb" x="1246" y="630">LINE 14</text>
<rect x="1123" y="530" width="45" height="33" rx="5" fill="#fab900"/><text class="lb" x="1145" y="544">6号线</text><text class="lb" x="1145" y="558">LINE 6</text>
<rect x="1094" y="703" width="47" height="34" rx="5" fill="#f5a0e8"/><text class="lb" x="1117" y="717">8号线</text><text class="lb" x="1117" y="731">LINE 8</text>
<rect x="1123" y="741" width="47" height="34" rx="5" fill="#00a0e9"/><text class="lb" x="1146" y="755">5号线</text><text class="lb" x="1146" y="769">LINE 5</text>
<rect x="1073" y="842" width="46" height="34" rx="5" fill="#009944"/><text class="lb" x="1096" y="856">7号线</text><text class="lb" x="1096" y="870">LINE 7</text>
<rect x="1011" y="965" width="47" height="33" rx="5" fill="#8cc63f"/><text class="lb" x="1034" y="979">4号线</text><text class="lb" x="1034" y="993">LINE 4</text>
<rect x="955" y="1026" width="46" height="34" rx="5" fill="#5cf0d0"/><text class="lb" x="978" y="1040">9号线</text><text class="lb" x="978" y="1054">LINE 9</text>
<rect x="122" y="757" width="46" height="34" rx="5" fill="#00a0e9"/><text class="lb" x="145" y="771">5号线</text><text class="lb" x="145" y="785">LINE 5</text>
<rect x="342" y="730" width="46" height="33" rx="5" fill="#6f2e91"/><text class="lb" x="365" y="744">3号线</text><text class="lb" x="365" y="758">LINE 3</text>
<rect x="377" y="792" width="45" height="33" rx="5" fill="#f89d6e"/><text class="lb" x="399" y="806">11号线</text><text class="lb" x="399" y="820">LINE 11</text>
<rect x="377" y="830" width="45" height="33" rx="5" fill="#c76a09"/><text class="lb" x="399" y="844">12号线</text><text class="lb" x="399" y="858">LINE 12</text>
<rect x="459" y="1000" width="47" height="33" rx="5" fill="#e4007f"/><text class="lb" x="482" y="1014">10号线</text><text class="lb" x="482" y="1028">LINE 10</text>
<rect x="540" y="1045" width="47" height="34" rx="5" fill="#f26b1a"/><text class="lb" x="563" y="1059">13号线</text><text class="lb" x="563" y="1073">LINE 13</text>
<rect x="509" y="1093" width="47" height="35" rx="5" fill="#fab900"/><text class="lb" x="532" y="1107">6号线</text><text class="lb" x="532" y="1121">LINE 6</text>
<rect x="730" y="1048" width="47" height="34" rx="5" fill="#e60012"/><text class="lb" x="753" y="1062">2号线</text><text class="lb" x="753" y="1076">LINE 2</text>
<rect x="112" y="1100" width="48" height="34" rx="5" fill="#f26b1a"/><text class="lb" x="136" y="1114">13号线</text><text class="lb" x="136" y="1128">LINE 13</text>
<rect x="180" y="1145" width="48" height="35" rx="5" fill="#f5a0e8"/><text class="lb" x="204" y="1159">8号线</text><text class="lb" x="204" y="1173">LINE 8</text>
</g>

<!-- LEGEND -->
<g class="lg">
<text x="1155" y="1088">图例</text><text x="1150" y="1099">Legend</text>
<rect x="1188" y="1048" width="26" height="5" fill="#0068b7"/><text x="1219" y="1047">1号线</text><text x="1219" y="1057">Line 1</text>
<rect x="1253" y="1048" width="26" height="5" fill="#00a0e9"/><text x="1284" y="1047">5号线</text><text x="1284" y="1057">Line 5</text>
<rect x="1315" y="1048" width="26" height="5" fill="#5ce6f7"/><text x="1345" y="1047">9号线</text><text x="1345" y="1057">Line 9</text>
<rect x="1378" y="1048" width="26" height="5" fill="#c76a09"/><text x="1409" y="1047">12号线</text><text x="1409" y="1057">Line 12</text>
<rect x="1442" y="1048" width="26" height="5" fill="#fbc96a"/><text x="1473" y="1047">15号线</text><text x="1473" y="1057">Line 15</text>
<rect x="1188" y="1075" width="26" height="5" fill="#e60012"/><text x="1219" y="1074">2号线</text><text x="1219" y="1084">Line 2</text>
<rect x="1253" y="1075" width="26" height="5" fill="#fab900"/><text x="1284" y="1074">6号线</text><text x="1284" y="1084">Line 6</text>
<rect x="1315" y="1075" width="26" height="5" fill="#e4007f"/><text x="1345" y="1074">10号线</text><text x="1345" y="1084">Line 10</text>
<rect x="1378" y="1075" width="26" height="5" fill="#f26b1a"/><text x="1409" y="1074">13号线</text><text x="1409" y="1084">Line 13</text>
<rect x="1442" y="1075" width="26" height="5" fill="#999"/><text x="1473" y="1074">16号线</text><text x="1473" y="1084">Line 16</text>
<rect x="1188" y="1102" width="26" height="5" fill="#6f2e91"/><text x="1219" y="1101">3号线</text><text x="1219" y="1111">Line 3</text>
<rect x="1253" y="1102" width="26" height="5" fill="#009944"/><text x="1284" y="1101">7号线</text><text x="1284" y="1111">Line 7</text>
<rect x="1315" y="1102" width="26" height="5" fill="#f89d6e"/><text x="1345" y="1101">11号线</text><text x="1345" y="1111">Line 11</text>
<rect x="1378" y="1102" width="26" height="5" fill="#c89a0a"/><text x="1409" y="1101">14号线</text><text x="1409" y="1111">Line 14</text>
<rect x="1442" y="1102" width="26" height="5" fill="#666"/><text x="1473" y="1101">17号线</text><text x="1473" y="1111">Line 17</text>
<rect x="1188" y="1130" width="26" height="5" fill="#8cc63f"/><text x="1219" y="1129">4号线</text><text x="1219" y="1139">Line 4</text>
<rect x="1253" y="1130" width="26" height="5" fill="#f5a0e8"/><text x="1284" y="1129">8号线</text><text x="1284" y="1139">Line 8</text>
<use href="#o" x="1320" y="1133"/><use href="#x" x="1334" y="1133"/><text x="1344" y="1129">地铁站/换乘站</text><text x="1344" y="1139">Station/Transfer Station</text>
</g>
</svg>
</body></html>
